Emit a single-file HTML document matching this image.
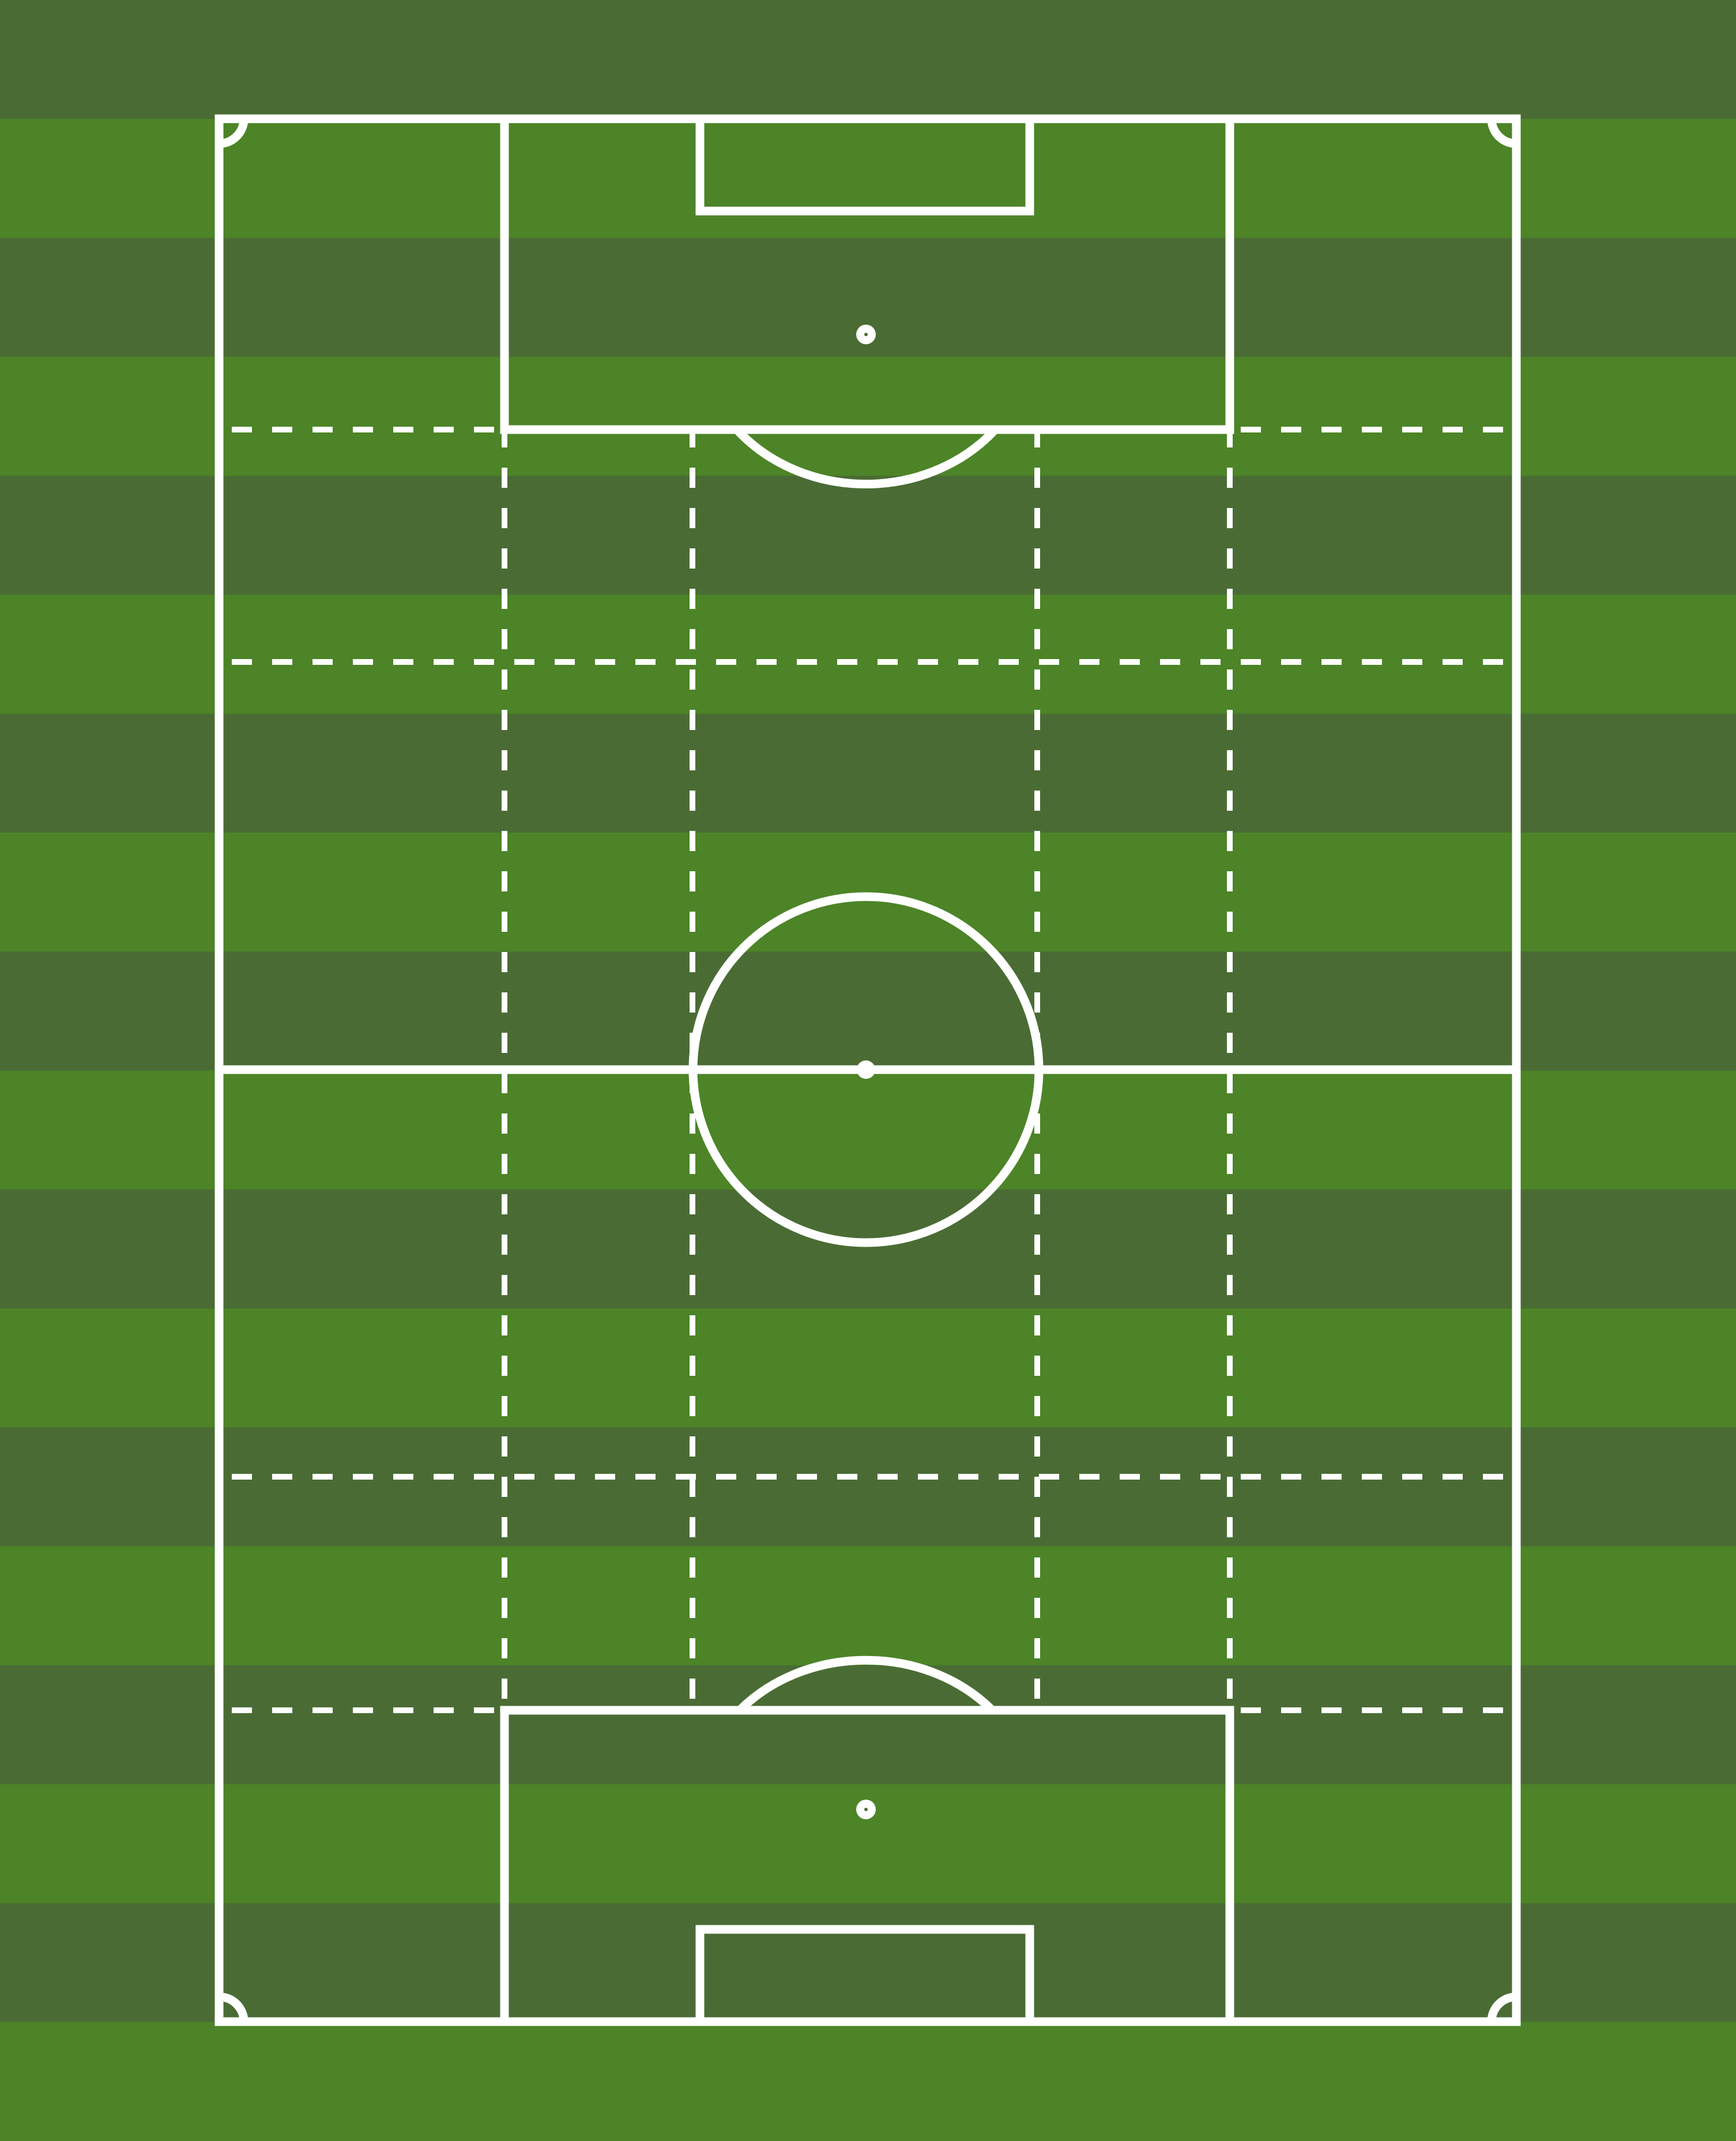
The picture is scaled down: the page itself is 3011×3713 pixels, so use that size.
<!DOCTYPE html>
<html><head><meta charset="utf-8"><style>html,body{margin:0;padding:0;background:#4a6c34}svg{display:block}</style></head>
<body>
<svg id="pitch" xmlns="http://www.w3.org/2000/svg" width="3011" height="3713" viewBox="0 0 3011 3713">
<g id="stripes"></g>
<g fill="none" stroke="#fff" stroke-width="10" stroke-dasharray="35 35">
  <line x1="402" y1="745" x2="2615" y2="745"/>
  <line x1="402" y1="1148" x2="2615" y2="1148"/>
  <line x1="402" y1="2561" x2="2615" y2="2561"/>
  <line x1="402" y1="2966" x2="2615" y2="2966"/>
  <line x1="875" y1="741" x2="875" y2="2966"/>
  <line x1="1201" y1="741" x2="1201" y2="2966"/>
  <line x1="1799" y1="741" x2="1799" y2="2966"/>
  <line x1="2133" y1="741" x2="2133" y2="2966"/>
</g>
<g fill="none" stroke="#fff" stroke-width="15">
  <rect x="380" y="206" width="2250" height="3300"/>
  <line x1="380" y1="1855" x2="2630" y2="1855"/>
  <ellipse cx="1502" cy="1855" rx="300" ry="300"/>
  <rect x="875" y="206" width="1258" height="539"/>
  <rect x="1214" y="206" width="572" height="160"/>
  <path d="M1278 745 A 290 259 0 0 0 1726 745"/>
  <rect x="875" y="2966" width="1258" height="540"/>
  <rect x="1214" y="3346" width="572" height="160"/>
  <path d="M1283 2966 A 290 252 0 0 1 1721 2966"/>
  <path d="M380 249 A 43 43 0 0 0 423 206"/>
  <path d="M2587 206 A 43 43 0 0 0 2630 249"/>
  <path d="M423 3506 A 43 43 0 0 0 380 3463"/>
  <path d="M2630 3463 A 43 43 0 0 0 2587 3506"/>
</g>
<g fill="#fff">
  <circle cx="1502" cy="1855" r="16"/>
  <circle cx="1502" cy="580" r="17"/>
  <circle cx="1502" cy="3138" r="17"/>
  <circle fill="#4a6c34" cx="1502" cy="580" r="3"/>
  <circle fill="#4a6c34" cx="1502" cy="3138" r="3"/>
</g>
</svg>
<script>
const stripeCount = 18;
const g = document.getElementById('stripes');
const h = 3713 / stripeCount;
for (let i = 0; i < stripeCount; i++) {
  const r = document.createElementNS('http://www.w3.org/2000/svg', 'rect');
  r.setAttribute('x', 0);
  r.setAttribute('y', (i * h).toFixed(2));
  r.setAttribute('width', 3011);
  r.setAttribute('height', (h + 1).toFixed(2));
  r.setAttribute('fill', i % 2 === 0 ? '#4a6c34' : '#4c8427');
  
  
  g.appendChild(r);
}
</script>
</body></html>
